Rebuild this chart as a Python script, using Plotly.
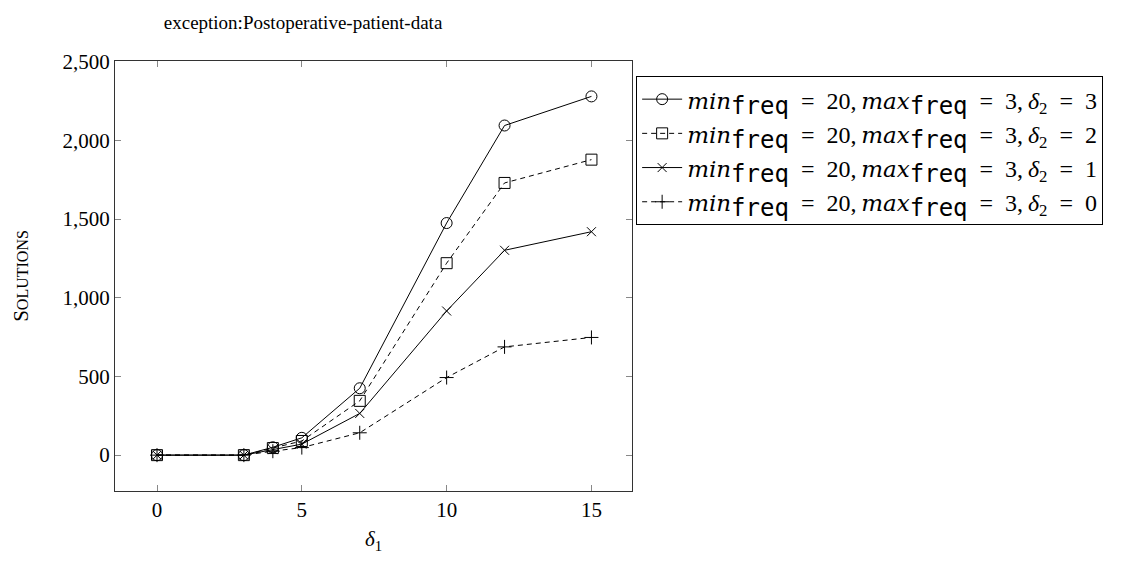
import plotly.graph_objects as go

delta1 = [0, 3, 4, 5, 7, 10, 12, 15]
sol_d2_3 = [0, 0, 50, 110, 425, 1475, 2095, 2280]
sol_d2_2 = [0, 0, 45, 90, 345, 1220, 1730, 1878]
sol_d2_1 = [0, 0, 35, 70, 265, 916, 1302, 1420]
sol_d2_0 = [0, 0, 25, 48, 142, 493, 688, 748]

mono = "<span style=\"font-family:'DejaVu Sans Mono';font-size:24px\">freq</span>"
def it(s):
    return f"<i><span style=\"font-family:'DejaVu Serif';font-size:23px\">{s}</span></i>"
eq = "\u2002=\u2002"
th = "\u2009"
def lab(d2):
    return (f"{it('min')}<sub>{mono}</sub>{eq}20,{th}{it('max')}<sub>{mono}</sub>{eq}3,{th}"
            f"<i>δ</i><sub>2</sub>{eq}{d2}")

series = [
    (sol_d2_3, "3", "circle-open", "solid", 11),
    (sol_d2_2, "2", "square-open", "5px,4px", 11),
    (sol_d2_1, "1", "x-thin-open", "solid", 9),
    (sol_d2_0, "0", "cross-thin-open", "5px,4px", 10),
]

fig = go.Figure()
for ys, d2, sym, dash, sz in series:
    fig.add_trace(go.Scatter(
        x=delta1, y=ys, mode="lines+markers", name=lab(d2),
        line=dict(color="black", width=1, dash=dash),
        marker=dict(symbol=sym, size=sz, color="black", line=dict(color="black", width=1)),
    ))

font = "Liberation Serif"
axis_common = dict(
    showgrid=False, zeroline=False, showline=True, linecolor="#333", linewidth=1,
    mirror="allticks", ticks="inside", ticklen=6, tickcolor="#888",
    tickfont=dict(family=font, size=21, color="black"), automargin=False,
)
fig.update_layout(
    width=1124, height=563,
    margin=dict(l=107, r=500, t=53, b=80),
    paper_bgcolor="white", plot_bgcolor="white",
    font=dict(family=font, size=20, color="black"),
    title=dict(text="exception:Postoperative-patient-data", x=0.2625, xanchor="center",
               y=0.975, yanchor="middle", font=dict(family=font, size=19)),
    xaxis=dict(range=[-1.45, 16.4], tickvals=[0, 5, 10, 15],
               title=dict(text="<i>δ</i><sub>1</sub>", font=dict(family=font, size=21), standoff=10),
               **axis_common),
    yaxis=dict(range=[-228, 2505], tickvals=[0, 500, 1000, 1500, 2000, 2500],
               tickformat=",d",
               title=dict(text="S<span style='font-size:16px'>OLUTIONS</span>",
                          font=dict(family=font, size=21), standoff=28),
               **axis_common),
    legend=dict(x=1.008, y=0.965, xanchor="left", yanchor="top",
                bordercolor="black", borderwidth=1, bgcolor="white",
                font=dict(family=font, size=24), tracegroupgap=0, itemwidth=40),
    showlegend=True,
)
fig.write_html("out.html")
